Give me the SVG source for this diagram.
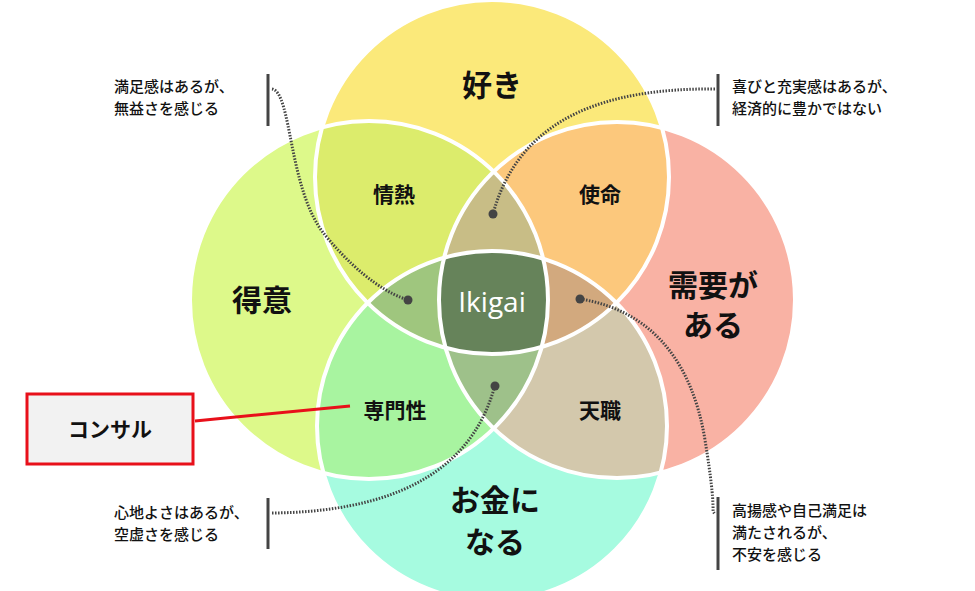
<svg xmlns="http://www.w3.org/2000/svg" width="975" height="591" viewBox="0 0 975 591">
<style>
text{font-family:"Noto Sans CJK JP","Noto Sans",sans-serif;fill:#111;font-weight:bold}
.big{font-size:30px;text-anchor:middle}
.mid{font-size:21px;text-anchor:middle}
.note{font-size:15px;font-weight:500}
.bar{stroke:#444;stroke-width:3}
.dot{fill:none;stroke:#444;stroke-width:3;stroke-dasharray:1.5 1.5}
.out{fill:none;stroke:#fff;stroke-width:4}
</style>
<defs>
<clipPath id="cT"><circle cx="492" cy="177" r="177"/></clipPath>
<clipPath id="cL"><circle cx="369" cy="300" r="179"/></clipPath>
<clipPath id="cR"><circle cx="617" cy="300" r="178"/></clipPath>
<clipPath id="cB"><circle cx="492" cy="426" r="175"/></clipPath>
</defs>
<rect width="975" height="591" fill="#fff"/>
<g id="circles">
<circle cx="492" cy="177" r="177" fill="#fbe97a"/>
<circle cx="369" cy="300" r="179" fill="#ddf98a"/>
<circle cx="617" cy="300" r="178" fill="#f9b2a4"/>
<circle cx="492" cy="426" r="175" fill="#a6fbe0"/>
<g clip-path="url(#cT)"><rect width="975" height="591" fill="#dcec6c" clip-path="url(#cL)"/><rect width="975" height="591" fill="#fcc87c" clip-path="url(#cR)"/></g>
<g clip-path="url(#cB)"><rect width="975" height="591" fill="#a8f4a0" clip-path="url(#cL)"/><rect width="975" height="591" fill="#d3c8ac" clip-path="url(#cR)"/></g>
<g clip-path="url(#cL)"><g clip-path="url(#cR)"><rect width="975" height="591" fill="#c8bd86" clip-path="url(#cT)"/><rect width="975" height="591" fill="#9ec18a" clip-path="url(#cB)"/></g></g>
<g clip-path="url(#cT)"><g clip-path="url(#cB)"><rect width="975" height="591" fill="#9fc67e" clip-path="url(#cL)"/><rect width="975" height="591" fill="#d2a97e" clip-path="url(#cR)"/></g></g>
<g clip-path="url(#cT)"><g clip-path="url(#cB)"><g clip-path="url(#cL)"><rect width="975" height="591" fill="#66835a" clip-path="url(#cR)"/></g></g></g>
<circle class="out" cx="492" cy="177" r="177"/>
<circle class="out" cx="369" cy="300" r="179"/>
<circle class="out" cx="617" cy="300" r="178"/>
<circle class="out" cx="492" cy="426" r="175"/>
</g>
<g id="labels">
<text class="big" x="492" y="96">好き</text>
<text class="big" x="262" y="311">得意</text>
<text class="big" x="713" y="296">需要が</text>
<text class="big" x="713" y="336">ある</text>
<text class="big" x="495" y="511">お金に</text>
<text class="big" x="495" y="553">なる</text>
<text class="mid" x="394" y="202">情熱</text>
<text class="mid" x="600" y="202">使命</text>
<text class="mid" x="395" y="418">専門性</text>
<text class="mid" x="600" y="418">天職</text>
<text x="492" y="312" style="font-size:28px;font-weight:normal;fill:#fff;text-anchor:middle;font-family:'Open Sans',sans-serif">Ikigai</text>
</g>
<g id="notes">
<text class="note" x="114" y="92">満足感はあるが、</text>
<text class="note" x="114" y="114">無益さを感じる</text>
<line class="bar" x1="268" y1="74" x2="268" y2="126"/>
<text class="note" x="732" y="92">喜びと充実感はあるが、</text>
<text class="note" x="732" y="114">経済的に豊かではない</text>
<line class="bar" x1="718" y1="74" x2="718" y2="126"/>
<text class="note" x="114" y="518">心地よさはあるが、</text>
<text class="note" x="114" y="540">空虚さを感じる</text>
<line class="bar" x1="268" y1="498" x2="268" y2="549"/>
<text class="note" x="732" y="516">高揚感や自己満足は</text>
<text class="note" x="732" y="538">満たされるが、</text>
<text class="note" x="732" y="560">不安を感じる</text>
<line class="bar" x1="718" y1="497" x2="718" y2="570"/>
</g>
<g id="connectors">
<path class="dot" d="M272,89 C292,92 288,190 325,235 S392,295 408,300"/>
<path class="dot" d="M715,89 C610,88 520,115 493,214"/>
<path class="dot" d="M272,513 C380,512 470,480 495,385"/>
<path class="dot" d="M580,299 C650,310 692,360 705,440 S710,508 715,514"/>
<circle cx="408" cy="300" r="4.5" fill="#444"/>
<circle cx="493" cy="214" r="4.5" fill="#444"/>
<circle cx="495" cy="386" r="4.5" fill="#444"/>
<circle cx="580" cy="299" r="4.5" fill="#444"/>
<line x1="195" y1="421" x2="350" y2="406" stroke="#e8101a" stroke-width="3"/>
</g>
<g id="consul">
<rect x="27" y="394" width="166" height="70" fill="#f2f2f2" stroke="#e8101a" stroke-width="3"/>
<text x="110" y="437" style="font-size:21px;text-anchor:middle">コンサル</text>
</g>
</svg>
